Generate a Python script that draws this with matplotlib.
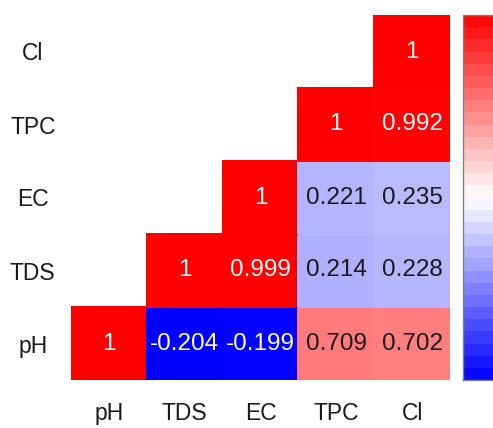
import numpy as np
import matplotlib
matplotlib.use("Agg")
import matplotlib.pyplot as plt
from matplotlib.colors import LinearSegmentedColormap, Normalize
import matplotlib.cm as cm

plt.rcParams['font.family'] = ['Liberation Sans', 'DejaVu Sans']

variables = ["pH", "TDS", "EC", "TPC", "Cl"]
# correlation rows (upper triangle; None = not shown)
row_pH  = [1, -0.204, -0.199, 0.709, 0.702]
row_TDS = [None, 1, 0.999, 0.214, 0.228]
row_EC  = [None, None, 1, 0.221, 0.235]
row_TPC = [None, None, None, 1, 0.992]
row_Cl  = [None, None, None, None, 1]

rows = [row_pH, row_TDS, row_EC, row_TPC, row_Cl]
M = np.array([[np.nan if v is None else v for v in r] for r in rows], dtype=float)
Mm = np.ma.masked_invalid(M)
vmin, vmax = np.nanmin(M), np.nanmax(M)

cmap = LinearSegmentedColormap.from_list("bwr2", ["#0000FF", "#FFFFFF", "#FF0000"], N=256)
norm = Normalize(vmin=vmin, vmax=vmax)

fig = plt.figure(figsize=(4.93, 4.28), dpi=100)
W, H = 493, 428
ax = fig.add_axes([71 / W, (H - 380) / H, 379 / W, 365 / H])
ax.pcolormesh(np.arange(6), np.arange(6), Mm, cmap=cmap, norm=norm,
              edgecolor='face', linewidth=0.3)
ax.set_xlim(0, 5)
ax.set_ylim(0, 5)
for s in ax.spines.values():
    s.set_visible(False)
ax.set_xticks(np.arange(5) + 0.5)
ax.set_xticklabels(variables, fontsize=16.5, color='#1a1a1a')
ax.set_yticks(np.arange(5) + 0.5)
ax.set_yticklabels(variables, fontsize=16.5, ha='center', color='#1a1a1a')
ax.tick_params(length=0)
ax.tick_params(axis='x', pad=16)
ax.tick_params(axis='y', pad=27.5)

for i, r in enumerate(rows):
    for j, v in enumerate(r):
        if v is None:
            continue
        nv = norm(v)
        color = 'white' if (nv > 0.85 or nv < 0.15) else '#1a1a1a'
        txt = "1" if v == 1 else f"{v:g}"
        ax.text(j + 0.5, i + 0.5, txt, ha='center', va='center',
                fontsize=17.5, color=color)

# colorbar (extends past the right edge as in the reference)
cax = fig.add_axes([463 / W, (H - 380) / H, 47 / W, 365 / H])
sm = cm.ScalarMappable(norm=norm, cmap=cmap)
bounds = np.linspace(vmin, vmax, 31)
cb = fig.colorbar(sm, cax=cax, boundaries=bounds)
cb.outline.set_edgecolor('#808080')
cb.outline.set_linewidth(1.0)
cb.set_ticks([])

fig.savefig("out.png", dpi=100)
